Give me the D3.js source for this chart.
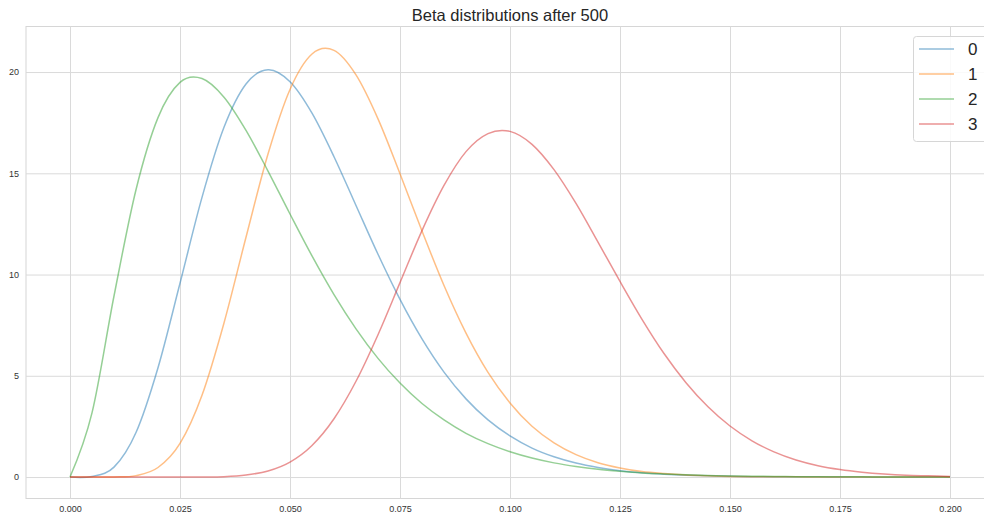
<!DOCTYPE html>
<html>
<head>
<meta charset="utf-8">
<script src="https://cdn.jsdelivr.net/npm/d3@7"></script>
<style>
  html, body { margin: 0; padding: 0; background: #fff; overflow: hidden; }
  svg { display: block; font-family: "Liberation Sans", Arial, sans-serif; }
</style>
</head>
<body>
<svg id="chart" width="984" height="516"></svg>
<script>
const title = "Beta distributions after 500";
const seriesNames = ["0", "1", "2", "3"];
const xValues = [0, 0.005, 0.01, 0.015, 0.02, 0.025, 0.03, 0.035, 0.04, 0.045,
  0.05, 0.055, 0.06, 0.065, 0.07, 0.075, 0.08, 0.085, 0.09, 0.095,
  0.1, 0.105, 0.11, 0.115, 0.12, 0.125, 0.13, 0.135, 0.14, 0.145,
  0.15, 0.155, 0.16, 0.165, 0.17, 0.175, 0.18, 0.185, 0.19, 0.195, 0.2];
const series0 = [0, 0.03, 0.49, 2.20, 5.40, 9.57, 13.81, 17.27, 19.41, 20.11,
  19.52, 17.97, 15.82, 13.41, 11.00, 8.77, 6.82, 5.18, 3.86, 2.82,
  2.03, 1.43, 1.00, 0.69, 0.47, 0.31, 0.21, 0.14, 0.09, 0.06,
  0.04, 0.02, 0.01, 0.01, 0.01, 0, 0, 0, 0, 0, 0];
const series1 = [0, 0, 0.004, 0.07, 0.47, 1.66, 4.04, 7.61, 11.84, 15.95,
  19.14, 20.89, 21.07, 19.86, 17.69, 14.98, 12.15, 9.46, 7.11, 5.17,
  3.66, 2.51, 1.69, 1.11, 0.71, 0.45, 0.27, 0.17, 0.10, 0.06,
  0.03, 0.02, 0.01, 0.01, 0, 0, 0, 0, 0, 0, 0];
const series2 = [0, 3.17, 8.94, 14.19, 17.75, 19.49, 19.68, 18.76, 17.12, 15.11,
  12.99, 10.92, 9.01, 7.32, 5.86, 4.64, 3.63, 2.82, 2.16, 1.65,
  1.25, 0.94, 0.70, 0.52, 0.38, 0.28, 0.20, 0.15, 0.11, 0.08,
  0.05, 0.04, 0.03, 0.02, 0.01, 0.01, 0.01, 0, 0, 0, 0];
const series3 = [0, 0, 0, 0, 0, 0, 0.004, 0.02, 0.10, 0.30,
  0.74, 1.56, 2.88, 4.73, 7.03, 9.60, 12.17, 14.40, 16.07, 16.96,
  17.07, 16.43, 15.18, 13.51, 11.60, 9.66, 7.79, 6.10, 4.66, 3.47,
  2.52, 1.79, 1.24, 0.84, 0.56, 0.37, 0.24, 0.15, 0.09, 0.06, 0.03];
const xTicks = [0, 0.025, 0.05, 0.075, 0.1, 0.125, 0.15, 0.175, 0.2];
const yTicks = [0, 5, 10, 15, 20];
const colors = ["#1f77b4", "#ff7f0e", "#2ca02c", "#d62728"];

const allSeries = [series0, series1, series2, series3];

const svg = d3.select("#chart");
const plot = { left: 26, right: 994, top: 26.5, bottom: 498.5 };

const x = d3.scaleLinear().domain([-0.01, 0.21]).range([plot.left, plot.right]);
const y = d3.scaleLinear().domain([-1.06, 22.25]).range([plot.bottom, plot.top]);

svg.append("rect")
  .attr("x", plot.left).attr("y", plot.top)
  .attr("width", plot.right - plot.left).attr("height", plot.bottom - plot.top)
  .attr("fill", "#fff").attr("stroke", "#d6d6d6").attr("stroke-width", 1);

const gx = svg.append("g")
  .attr("transform", `translate(0,${plot.bottom})`)
  .call(d3.axisBottom(x).tickValues(xTicks).tickFormat(d3.format(".3f"))
    .tickSize(-(plot.bottom - plot.top)).tickPadding(7));
const gy = svg.append("g")
  .attr("transform", `translate(${plot.left},0)`)
  .call(d3.axisLeft(y).tickValues(yTicks).tickFormat(d3.format("d"))
    .tickSize(-(plot.right - plot.left)).tickPadding(7));

[gx, gy].forEach(g => {
  g.select(".domain").remove();
  g.selectAll(".tick line").attr("stroke", "#dadada").attr("stroke-width", 1);
  g.selectAll(".tick text").attr("fill", "#333").attr("font-size", 9)
    .attr("font-family", "'Liberation Sans', Arial, sans-serif");
});

const line = d3.line()
  .x((d, i) => x(xValues[i]))
  .y(d => y(d))
  .curve(d3.curveCardinal.tension(0));

allSeries.forEach((s, i) => {
  svg.append("path")
    .datum(s)
    .attr("d", line)
    .attr("fill", "none")
    .attr("stroke", colors[i])
    .attr("stroke-opacity", 0.5)
    .attr("stroke-width", 1.5)
    .attr("stroke-linejoin", "round");
});

svg.append("text")
  .attr("x", (plot.left + plot.right) / 2)
  .attr("y", 20.5)
  .attr("text-anchor", "middle")
  .attr("font-size", 16.5)
  .attr("fill", "#262626")
  .text(title);

const lg = svg.append("g");
lg.append("rect")
  .attr("x", 913.5).attr("y", 36.5).attr("width", 80).attr("height", 105)
  .attr("rx", 3).attr("fill", "#fff").attr("fill-opacity", 0.85)
  .attr("stroke", "#d6d6d6");
seriesNames.forEach((name, i) => {
  const cy = 49 + i * 25;
  lg.append("line")
    .attr("x1", 919).attr("x2", 954).attr("y1", cy).attr("y2", cy)
    .attr("stroke", colors[i]).attr("stroke-opacity", 0.5).attr("stroke-width", 1.5);
  lg.append("text")
    .attr("x", 968).attr("y", cy + 6)
    .attr("font-size", 17).attr("fill", "#262626")
    .text(name);
});
</script>
</body>
</html>
